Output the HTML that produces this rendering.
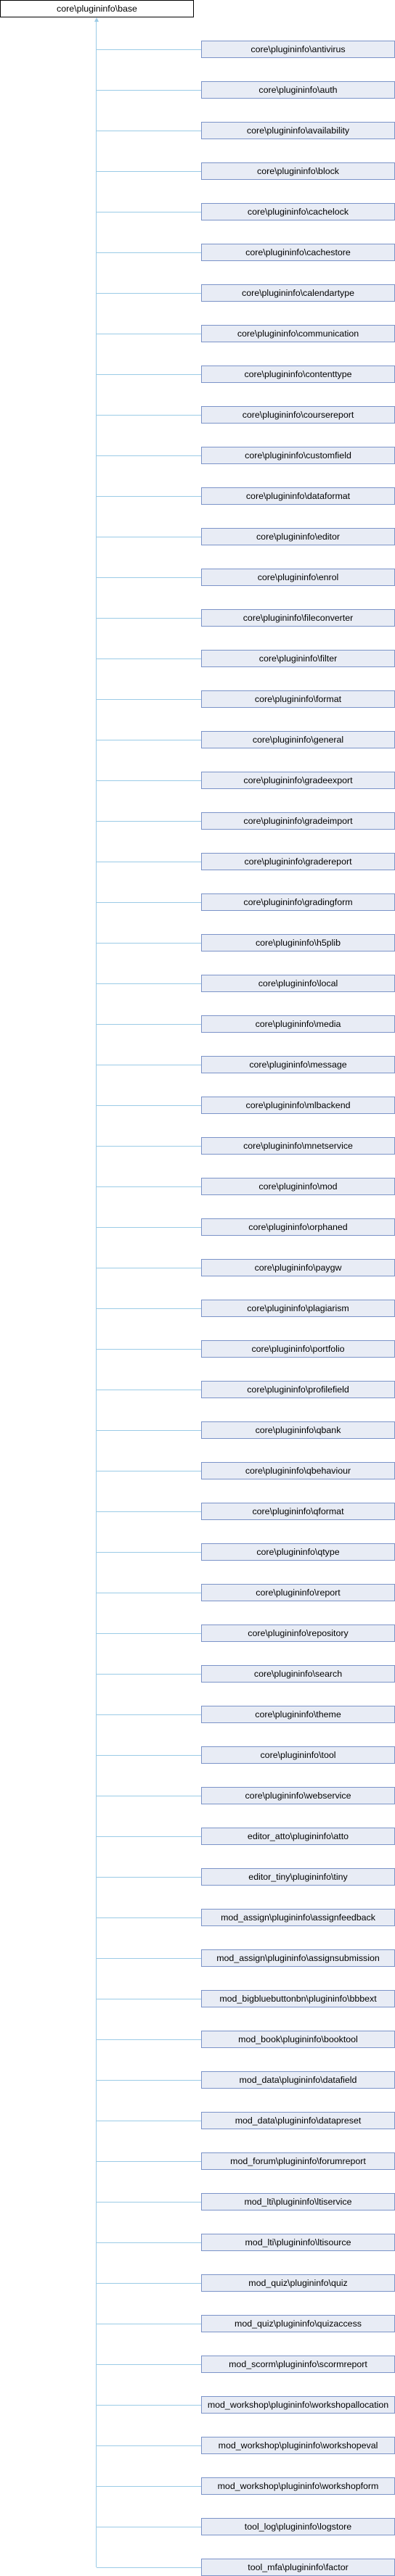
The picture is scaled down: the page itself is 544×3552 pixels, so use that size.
<!DOCTYPE html>
<html><head><meta charset="utf-8"><style>
html,body{margin:0;padding:0;background:#fff;}
body{width:544px;height:3552px;position:relative;overflow:hidden;font-family:"Liberation Sans",Arial,sans-serif;}
.b{position:absolute;box-sizing:border-box;height:24px;font-size:12.4px;line-height:22px;text-align:center;color:#000;white-space:nowrap;}
.base{left:0;top:0;width:267px;border:1px solid #000;background:#fff;}
.c{left:277px;width:267px;border:1px solid #7b93c8;background:#e8ecf5;}
.v{position:absolute;left:132px;top:29px;width:1px;height:3511px;background:#9bcbe6;}
.h{position:absolute;left:133px;width:144px;height:1px;background:#9bcbe6;}
.arr{position:absolute;left:130px;top:24px;width:0;height:0;border-left:3px solid transparent;border-right:3px solid transparent;border-bottom:6px solid #9bcbe6;}
</style></head><body>
<div class="b base">core\plugininfo\base</div>
<div class="arr"></div>
<div class="v"></div>
<div id="k"></div>
<script>
var n=["core\\plugininfo\\antivirus","core\\plugininfo\\auth","core\\plugininfo\\availability","core\\plugininfo\\block","core\\plugininfo\\cachelock","core\\plugininfo\\cachestore","core\\plugininfo\\calendartype","core\\plugininfo\\communication","core\\plugininfo\\contenttype","core\\plugininfo\\coursereport","core\\plugininfo\\customfield","core\\plugininfo\\dataformat","core\\plugininfo\\editor","core\\plugininfo\\enrol","core\\plugininfo\\fileconverter","core\\plugininfo\\filter","core\\plugininfo\\format","core\\plugininfo\\general","core\\plugininfo\\gradeexport","core\\plugininfo\\gradeimport","core\\plugininfo\\gradereport","core\\plugininfo\\gradingform","core\\plugininfo\\h5plib","core\\plugininfo\\local","core\\plugininfo\\media","core\\plugininfo\\message","core\\plugininfo\\mlbackend","core\\plugininfo\\mnetservice","core\\plugininfo\\mod","core\\plugininfo\\orphaned","core\\plugininfo\\paygw","core\\plugininfo\\plagiarism","core\\plugininfo\\portfolio","core\\plugininfo\\profilefield","core\\plugininfo\\qbank","core\\plugininfo\\qbehaviour","core\\plugininfo\\qformat","core\\plugininfo\\qtype","core\\plugininfo\\report","core\\plugininfo\\repository","core\\plugininfo\\search","core\\plugininfo\\theme","core\\plugininfo\\tool","core\\plugininfo\\webservice","editor_atto\\plugininfo\\atto","editor_tiny\\plugininfo\\tiny","mod_assign\\plugininfo\\assignfeedback","mod_assign\\plugininfo\\assignsubmission","mod_bigbluebuttonbn\\plugininfo\\bbbext","mod_book\\plugininfo\\booktool","mod_data\\plugininfo\\datafield","mod_data\\plugininfo\\datapreset","mod_forum\\plugininfo\\forumreport","mod_lti\\plugininfo\\ltiservice","mod_lti\\plugininfo\\ltisource","mod_quiz\\plugininfo\\quiz","mod_quiz\\plugininfo\\quizaccess","mod_scorm\\plugininfo\\scormreport","mod_workshop\\plugininfo\\workshopallocation","mod_workshop\\plugininfo\\workshopeval","mod_workshop\\plugininfo\\workshopform","tool_log\\plugininfo\\logstore","tool_mfa\\plugininfo\\factor"];
var h="";
for(var i=0;i<n.length;i++){var t=56+56*i;h+='<div class="h" style="top:'+(t+12)+'px"></div><div class="b c" style="top:'+t+'px">'+n[i]+'</div>';}
document.getElementById("k").innerHTML=h;
</script>
</body></html>
